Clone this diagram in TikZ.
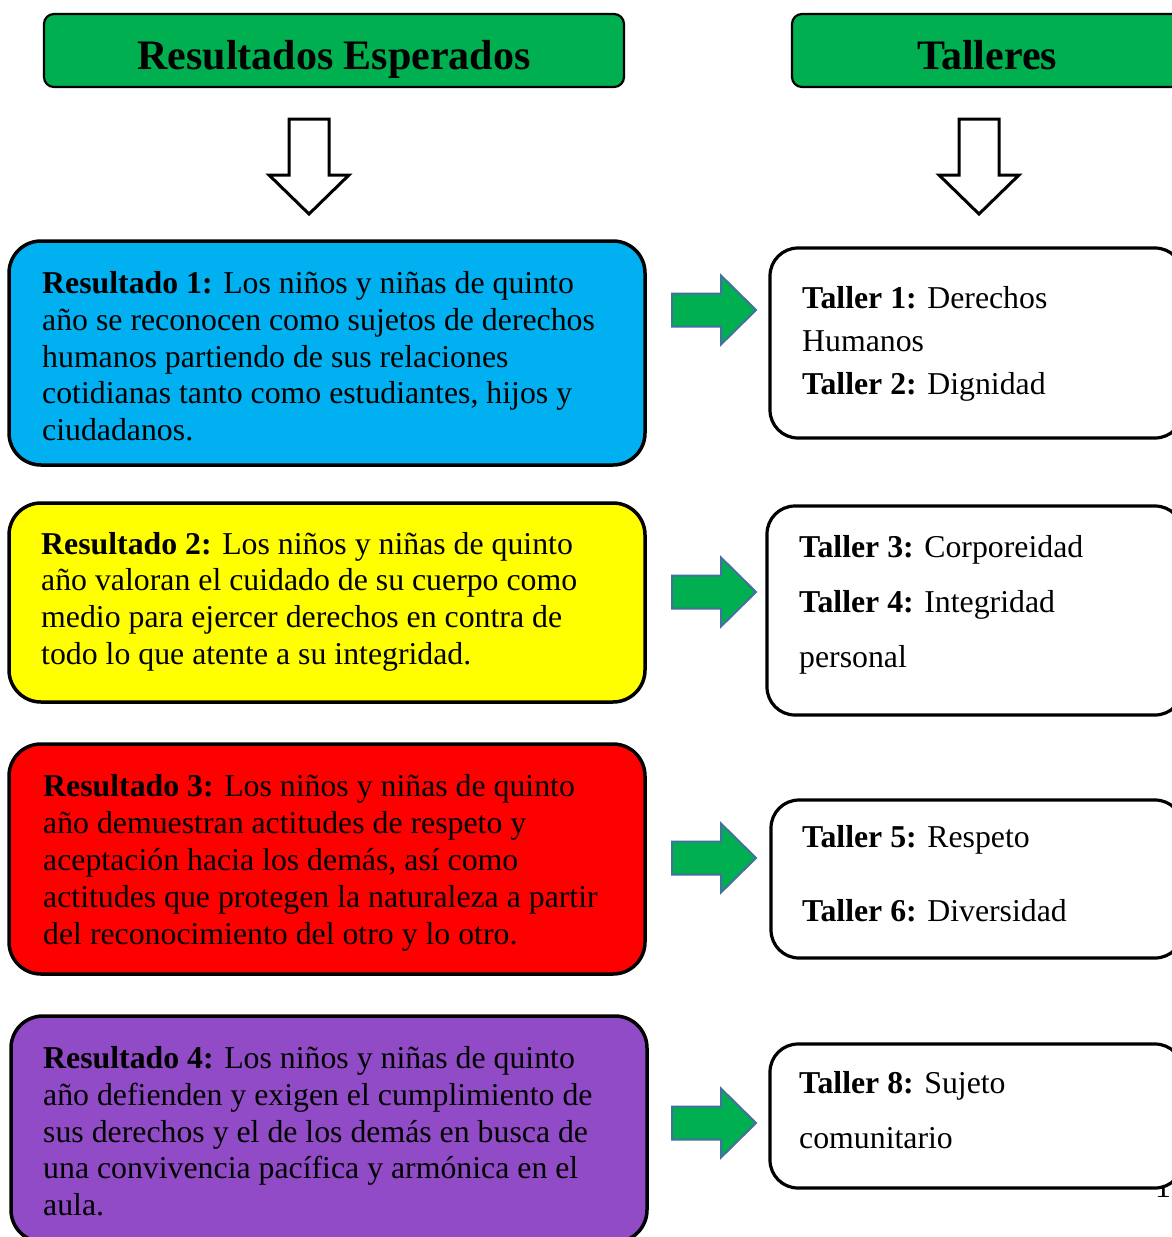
\documentclass[tikz,border=0pt]{standalone}
\usepackage{fontspec}
\setmainfont{Liberation Serif}
\definecolor{hgreen}{RGB}{0,176,80}
\definecolor{rcyan}{RGB}{0,176,240}
\definecolor{ryellow}{RGB}{255,255,0}
\definecolor{rred}{RGB}{255,0,0}
\definecolor{rpurple}{RGB}{145,75,198}
\definecolor{aedge}{RGB}{65,113,156}
\tikzset{
  hbox/.style={draw=black, line width=2.2, fill=hgreen, rounded corners=10, inner sep=0},
  rbox/.style={draw=black, line width=3.5, rounded corners=32, inner sep=0},
  tbox/.style={draw=black, line width=3.2, fill=white, rounded corners=28, inner sep=0},
  htext/.style={font=\fontsize{42}{48}\selectfont\bfseries, inner sep=0},
  body/.style={font=\fontsize{31.8}{36.7}\selectfont, inner sep=0, anchor=base west},
  garrow/.style={fill=hgreen, draw=aedge, line width=2, line join=miter},
  darrow/.style={fill=white, draw=black, line width=3, line join=miter},
}
\begin{document}
\begin{tikzpicture}[x=1pt, y=-1pt]
\useasboundingbox (0,0) rectangle (1172,1237);
\fill[white] (0,0) rectangle (1172,1237);

% headers
\node[hbox, minimum width=580, minimum height=73] (h1) at (334,50.5) {};
\node[htext, anchor=base] (h1t) at (334,69) {Resultados Esperados};
\node[hbox, minimum width=398, minimum height=73] (h2) at (991,50.5) {};
\node[htext, anchor=base] (h2t) at (987,69) {Talleres};

% down arrows
\coordinate (d1) at (309,214);
\coordinate (d2) at (979,214);
\foreach \c in {d1,d2}{
  \draw[darrow, shift={(\c)}] (0,0) -- (-40,-39) -- (-20,-39) -- (-20,-95) -- (20,-95) -- (20,-39) -- (40,-39) -- cycle;
}

% page number (partly hidden)
\node[body, anchor=base] (pg) at (1163,1197) {1};

% result boxes
\node[rbox, fill=rcyan, minimum width=636, minimum height=224] (r1) at (327,353) {};
\node[rbox, fill=ryellow, minimum width=636, minimum height=199] (r2) at (327,602.5) {};
\node[rbox, fill=rred, minimum width=636, minimum height=230] (r3) at (327,859) {};
\node[rbox, fill=rpurple, minimum width=636, minimum height=226] (r4) at (329,1129) {};

\node[body] (r1a) at (42,293) {\textbf{Resultado 1:} Los niños y niñas de quinto};
\node[body] (r1b) at (42,330) {año se reconocen como sujetos de derechos};
\node[body] (r1c) at (42,367) {humanos partiendo de sus relaciones};
\node[body] (r1d) at (42,403.5) {cotidianas tanto como estudiantes, hijos y};
\node[body] (r1e) at (42,440) {ciudadanos.};

\node[body] (r2a) at (41,554) {\textbf{Resultado 2:} Los niños y niñas de quinto};
\node[body] (r2b) at (41,590.5) {año valoran el cuidado de su cuerpo como};
\node[body] (r2c) at (41,627) {medio para ejercer derechos en contra de};
\node[body] (r2d) at (41,664) {todo lo que atente a su integridad.};

\node[body] (r3a) at (43,796) {\textbf{Resultado 3:} Los niños y niñas de quinto};
\node[body] (r3b) at (43,833) {año demuestran actitudes de respeto y};
\node[body] (r3c) at (43,870) {aceptación hacia los demás, así como};
\node[body] (r3d) at (43,907) {actitudes que protegen la naturaleza a partir};
\node[body] (r3e) at (43,944) {del reconocimiento del otro y lo otro.};

\node[body] (r4a) at (43,1068) {\textbf{Resultado 4:} Los niños y niñas de quinto};
\node[body] (r4b) at (43,1105) {año defienden y exigen el cumplimiento de};
\node[body] (r4c) at (43,1142) {sus derechos y el de los demás en busca de};
\node[body] (r4d) at (43,1178) {una convivencia pacífica y armónica en el};
\node[body] (r4e) at (43,1215) {aula.};

% taller boxes
\node[tbox, minimum width=413, minimum height=190] (t1) at (976.5,343) {};
\node[tbox, minimum width=416, minimum height=209] (t2) at (975,610.5) {};
\node[tbox, minimum width=412, minimum height=158] (t3) at (977,879) {};
\node[tbox, minimum width=413, minimum height=144] (t4) at (976.5,1116) {};

\node[body] (t1a) at (802,308) {\textbf{Taller 1:} Derechos};
\node[body] (t1b) at (802,351) {Humanos};
\node[body] (t1c) at (802,394) {\textbf{Taller 2:} Dignidad};

\node[body] (t2a) at (799,557) {\textbf{Taller 3:} Corporeidad};
\node[body] (t2b) at (799,612) {\textbf{Taller 4:} Integridad};
\node[body] (t2c) at (799,667) {personal};

\node[body] (t3a) at (802,847) {\textbf{Taller 5:} Respeto};
\node[body] (t3b) at (802,921) {\textbf{Taller 6:} Diversidad};

\node[body] (t4a) at (799,1093) {\textbf{Taller 8:} Sujeto};
\node[body] (t4b) at (799,1148) {comunitario};

% green block arrows between result and taller boxes
\path (r1.east) -- (t1.west) coordinate[pos=0] (q1);
\coordinate (g1) at (756,310);
\coordinate (g2) at (756,592);
\coordinate (g3) at (756,858);
\coordinate (g4) at (756,1123);
\foreach \c in {g1,g2,g3,g4}{
  \draw[garrow, shift={(\c)}] (0,0) -- (-35,-34.5) -- (-35,-16.5) -- (-84,-16.5) -- (-84,16.5) -- (-35,16.5) -- (-35,34.5) -- cycle;
}
\end{tikzpicture}
\end{document}
